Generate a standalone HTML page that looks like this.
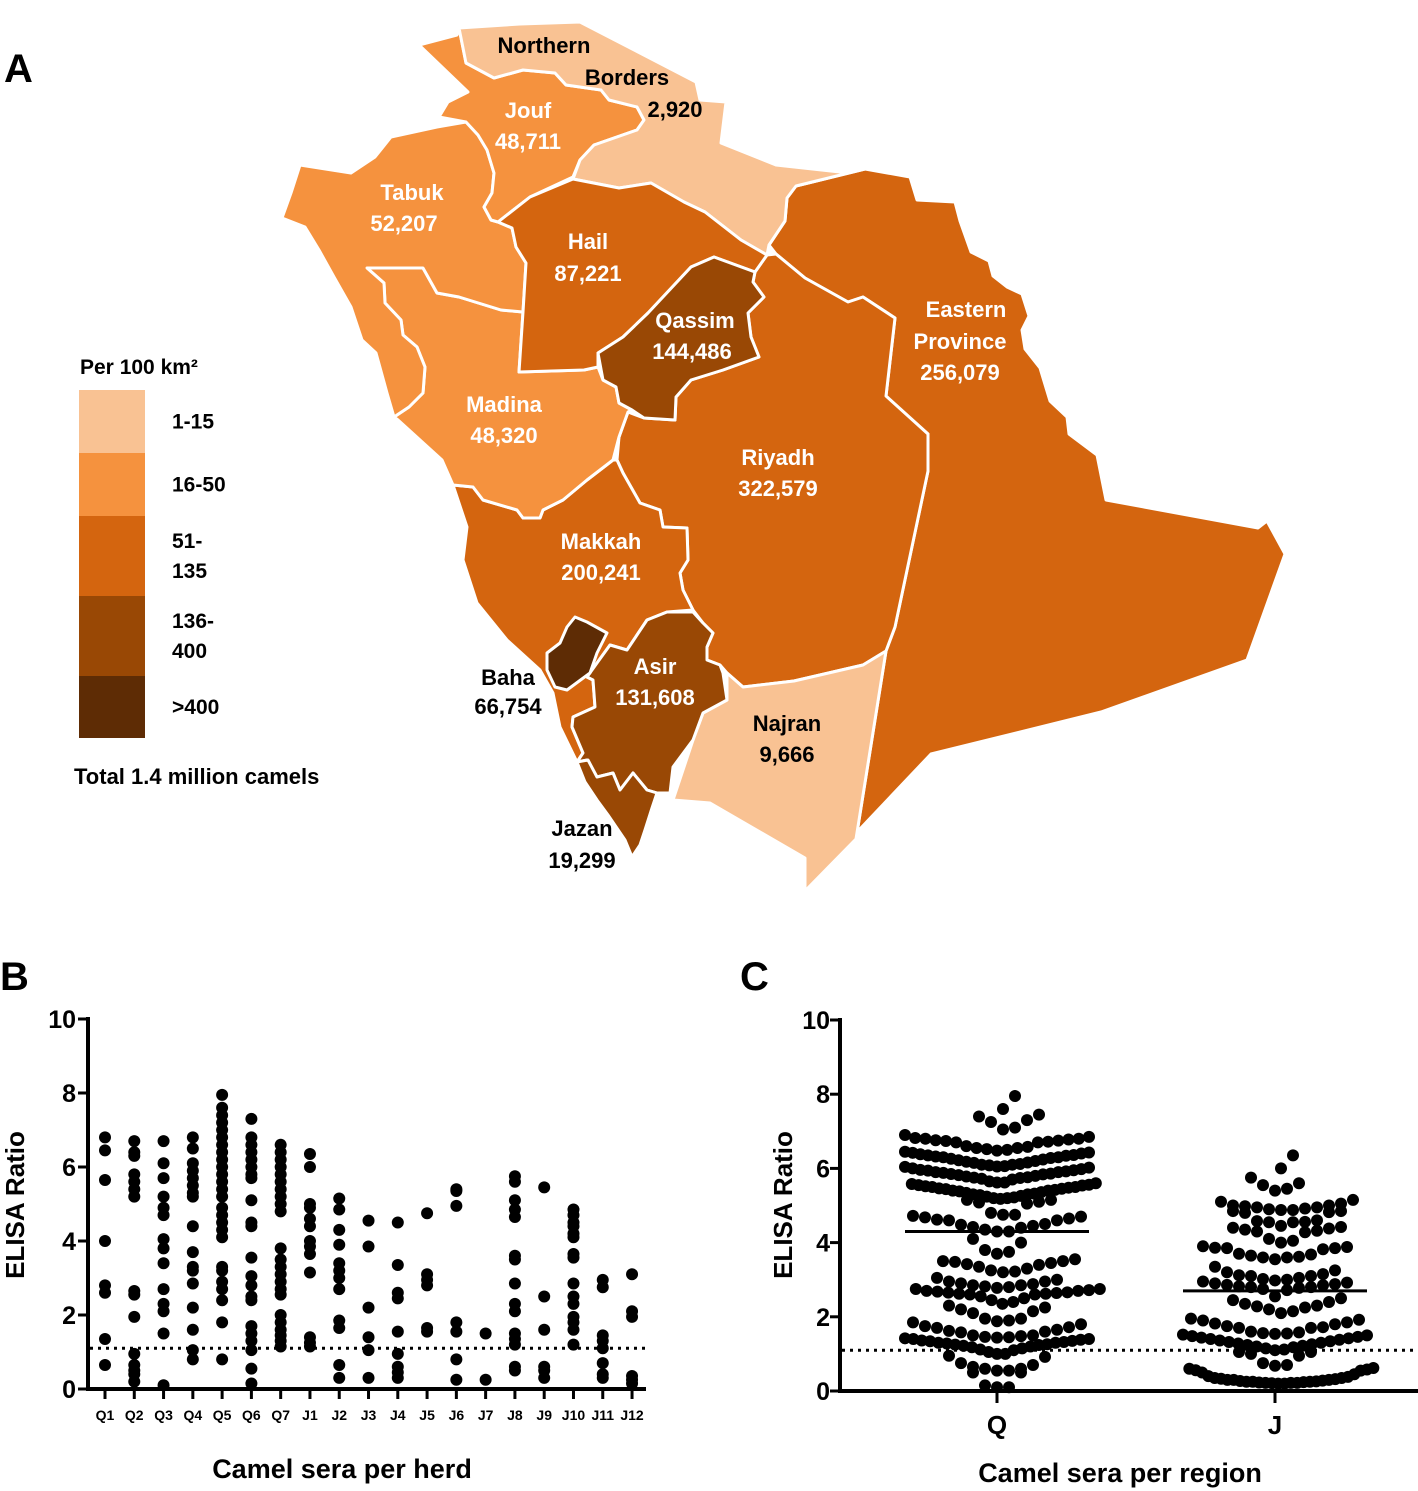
<!DOCTYPE html>
<html><head><meta charset="utf-8">
<style>
body{margin:0;background:#fff;width:1418px;height:1491px;overflow:hidden;font-family:"Liberation Sans",sans-serif}
svg{display:block}
.lbl{font-family:"Liberation Sans",sans-serif;font-weight:bold;font-size:22px;text-anchor:middle}
.w{fill:#fff}.k{fill:#000}
.tick{font-family:"Liberation Sans",sans-serif;font-weight:bold;font-size:25px;text-anchor:end}
</style></head>
<body>
<svg width="1418" height="1491" xmlns="http://www.w3.org/2000/svg">
<g id="map" stroke="#fff" stroke-width="3" stroke-linejoin="round"></g>
<text x="4" y="82" font-size="40" font-weight="bold">A</text>
<g id="legend"></g>
<g id="panelB"></g>
<g id="panelC"></g>
</svg>
<script>
const NS="http://www.w3.org/2000/svg";
function mk(p,tag,at,txt){const e=document.createElementNS(NS,tag);for(const k in at)e.setAttribute(k,at[k]);if(txt!==undefined)e.textContent=txt;p.appendChild(e);return e;}
// ---- Map ----
const C1="#F9C293",C2="#F5923E",C3="#D4650F",C4="#994805",C5="#5E2C05";
const regionNames=["eastern-province","riyadh","makkah","madina","tabuk","jouf","northern-borders","hail","qassim","najran","asir","jazan","baha"];
const regionColors=[C3,C3,C3,C2,C2,C2,C1,C3,C4,C1,C4,C4,C5];
const regionShapes=[
"776,254 769,245 785,221 787,198 796,186 865,169 910,177 917,200 955,202 960,221 971,252 989,261 993,276 1007,287 1022,294 1029,316 1022,330 1025,349 1040,368 1050,401 1067,417 1069,434 1097,455 1106,500 1258,528 1267,521 1285,554 1247,660 1101,712 931,754 859,830 856,839 886,651 895,627 928,471 928,434 886,396 895,318 863,297 848,302 805,278",
"767,255 776,254 805,278 848,302 863,297 895,318 886,396 928,434 928,471 895,627 886,651 863,665 794,681 743,687 727,673 720,665 707,660 707,647 713,633 703,623 693,610 683,590 680,573 688,560 687,528 663,527 660,510 640,503 623,473 617,460 619,437 628,412 644,418 675,420 676,397 691,380 723,370 759,357 751,337 748,313 764,297 753,282 755,272",
"453,485 473,487 483,500 517,510 523,518 540,518 543,510 563,500 587,480 613,460 617,460 623,473 640,503 660,510 663,527 687,528 688,560 680,573 683,590 693,610 667,612 647,620 627,650 610,645 597,663 587,677 593,680 595,707 573,717 572,727 583,753 577,762 560,727 553,693 540,670 507,640 477,603 463,560 467,527",
"367,268 423,268 437,293 459,297 501,310 523,312 519,372 584,370 598,367 603,380 616,387 619,403 632,410 628,412 619,437 613,460 587,480 563,500 543,510 540,518 523,518 517,510 483,500 473,487 453,485 442,460 398,420 394,417 409,407 423,393 425,367 417,347 403,335 401,320 385,303 384,283",
"437,127 466,122 478,135 487,150 494,173 492,193 484,207 491,220 498,222 512,228 516,247 526,263 523,312 501,310 459,297 437,293 423,268 367,268 384,283 385,303 401,320 403,335 417,347 425,367 423,393 409,407 394,417 387,393 376,353 362,340 351,307 334,277 319,250 305,227 282,218 291,193 300,165 351,173 375,157 391,137",
"419,45 457,35 459,28 466,63 494,78 523,70 555,73 566,85 601,90 609,100 637,107 644,120 637,130 594,145 580,160 573,177 530,197 498,222 491,220 484,207 492,193 494,173 487,150 478,135 466,122 439,117 448,102 468,92",
"459,28 520,24 580,22 696,82 700,100 726,102 721,143 776,165 840,172 865,169 796,186 787,198 785,221 769,245 767,255 741,240 705,212 684,202 651,183 619,188 573,179 580,160 594,145 637,130 644,120 637,107 609,100 601,90 566,85 555,73 523,70 494,78 466,63",
"498,222 530,197 573,179 619,188 651,183 684,202 705,212 741,240 767,255 755,272 714,257 691,267 648,313 623,337 598,353 598,367 584,370 519,372 523,312 526,263 516,247 512,228",
"598,353 623,337 648,313 691,267 714,257 755,272 753,282 764,297 748,313 751,337 759,357 723,370 691,380 676,397 675,420 644,418 632,410 619,403 616,387 603,380",
"727,673 743,687 794,681 863,665 886,651 856,839 805,891 805,858 710,803 673,800 693,740 703,713 727,700",
"693,612 667,612 647,620 627,650 610,645 597,663 587,677 593,680 595,707 573,717 572,727 583,753 577,762 587,760 597,777 613,773 620,790 633,773 647,790 657,793 670,793 673,767 693,740 703,713 727,700 723,673 720,665 707,660 707,647 713,633 703,623",
"577,762 588,760 597,777 613,773 620,790 633,773 647,790 657,793 652,808 645,830 640,845 632,857 625,840 608,815 597,800 585,782",
"575,617 587,622 607,633 597,653 590,673 567,690 555,687 547,670 547,653 560,643 567,627"];
const map=document.getElementById('map');
regionShapes.forEach((s,i)=>{const p=mk(map,'polygon',{points:s,fill:regionColors[i]});

});
const labels=[["Northern",544,53,"k"],["Borders",627,85,"k"],["2,920",675,117,"k"],["Jouf",528,118,"w"],["48,711",528,149,"w"],["Tabuk",412,200,"w"],["52,207",404,231,"w"],["Hail",588,249,"w"],["87,221",588,281,"w"],["Qassim",695,328,"w"],["144,486",692,359,"w"],["Eastern",966,317,"w"],["Province",960,349,"w"],["256,079",960,380,"w"],["Madina",504,412,"w"],["48,320",504,443,"w"],["Riyadh",778,465,"w"],["322,579",778,496,"w"],["Makkah",601,549,"w"],["200,241",601,580,"w"],["Asir",655,674,"w"],["131,608",655,705,"w"],["Baha",508,685,"k"],["66,754",508,714,"k"],["Najran",787,731,"k"],["9,666",787,762,"k"],["Jazan",582,836,"k"],["19,299",582,868,"k"]];
const svg=document.querySelector('svg');
labels.forEach(l=>{const t=mk(svg,'text',{x:l[1],y:l[2],class:'lbl '+l[3]},l[0]);

});
// legend
const lg=document.getElementById('legend');
mk(lg,'text',{x:80,y:374,'font-size':21,'font-weight':'bold'},'Per 100 km²');
const legCols=[C1,C2,C3,C4,C5],legY=[390,453,516,596,676,738];
const legText=[["1-15"],["16-50"],["51-","135"],["136-","400"],[">400"]];
legCols.forEach((c,i)=>{const r=mk(lg,'rect',{x:79,y:legY[i],width:66,height:legY[i+1]-legY[i],fill:c});


const t=legText[i];const mid=(legY[i]+legY[i+1])/2;
t.forEach((s,j)=>mk(lg,'text',{x:172,y:mid+7+(j-(t.length-1)/2)*30,'font-size':21,'font-weight':'bold'},s));});
mk(lg,'text',{x:74,y:784,'font-size':22,'font-weight':'bold'},'Total 1.4 million camels');

// ---- Panel B ----
const herdNames=["Q1","Q2","Q3","Q4","Q5","Q6","Q7","J1","J2","J3","J4","J5","J6","J7","J8","J9","J10","J11","J12"];
const herdValues=[
[6.8,6.45,5.65,4.0,2.8,2.6,1.35,0.65],
[6.7,6.4,6.3,5.8,5.6,5.4,5.2,2.65,2.55,1.95,0.95,0.65,0.5,0.4,0.2],
[6.7,6.1,5.7,5.2,4.9,4.7,4.05,3.8,3.4,2.7,2.3,2.1,1.5,0.1],
[6.8,6.5,6.1,5.9,5.7,5.5,5.3,5.2,4.4,3.7,3.3,3.2,2.85,2.2,1.6,1.05,0.8],
[7.95,7.6,7.4,7.2,7.0,6.8,6.6,6.4,6.2,6.0,5.8,5.6,5.4,5.2,4.9,4.7,4.5,4.3,4.1,3.3,3.2,2.9,2.7,2.4,1.8,0.8],
[7.3,6.8,6.6,6.4,6.2,6.0,5.8,5.7,5.1,4.5,4.4,3.55,3.05,2.8,2.5,2.4,1.7,1.5,1.3,1.05,0.55,0.15],
[6.6,6.4,6.2,6.0,5.8,5.6,5.4,5.2,5.0,4.8,3.8,3.5,3.3,3.1,2.9,2.7,2.55,2.0,1.8,1.6,1.45,1.3,1.15],
[6.35,6.0,5.0,4.9,4.6,4.4,4.0,3.85,3.65,3.15,1.4,1.25,1.15],
[5.15,4.85,4.3,3.9,3.4,3.2,3.0,2.7,1.85,1.65,0.65,0.3],
[4.55,3.85,2.2,1.4,1.05,0.3],
[4.5,3.35,2.6,2.45,1.55,0.95,0.6,0.45,0.3],
[4.75,3.1,2.95,2.8,1.65,1.55],
[5.4,5.35,4.95,1.8,1.55,0.8,0.25],
[1.5,0.25],
[5.75,5.6,5.1,4.85,4.65,3.6,3.5,2.85,2.3,2.1,1.5,1.35,1.2,0.6,0.5],
[5.45,2.5,1.6,0.6,0.5,0.3],
[4.85,4.7,4.5,4.4,4.2,4.1,3.65,3.55,2.85,2.5,2.3,1.95,1.8,1.6,1.2],
[2.95,2.75,1.45,1.3,1.1,0.7,0.4,0.3],
[3.1,2.1,1.95,0.35,0.25,0.15]];
const yTicks=[0,2,4,6,8,10];
const cutoff=1.1;
const B=document.getElementById('panelB');
const byB=v=>1389-v*37, bx=i=>105+i*29.28;
mk(B,'text',{x:0,y:990,'font-size':40,'font-weight':'bold'},'B');
mk(B,'line',{x1:88,y1:1017,x2:88,y2:1391,stroke:'#000','stroke-width':4});
mk(B,'line',{x1:86,y1:1389,x2:646,y2:1389,stroke:'#000','stroke-width':4});
yTicks.forEach(v=>{mk(B,'line',{x1:78,y1:byB(v),x2:88,y2:byB(v),stroke:'#000','stroke-width':3});
const t=mk(B,'text',{x:76,y:byB(v)+9,class:'tick'},v);

});
mk(B,'line',{x1:90,y1:byB(cutoff),x2:646,y2:byB(cutoff),stroke:'#000','stroke-width':3,'stroke-dasharray':'3,5'});
herdNames.forEach((n,i)=>{mk(B,'line',{x1:bx(i),y1:1389,x2:bx(i),y2:1399,stroke:'#000','stroke-width':3});
const t=mk(B,'text',{x:bx(i),y:1420,'font-size':14,'font-weight':'bold','text-anchor':'middle'},n);


herdValues[i].forEach(v=>{const c=mk(B,'circle',{cx:bx(i),cy:byB(v),r:6,fill:'#000'});

});});
const yb=mk(B,'text',{x:0,y:0,'font-size':26,'font-weight':'bold','text-anchor':'middle',transform:'translate(24,1205) rotate(-90)'},'ELISA Ratio');


const xb=mk(B,'text',{x:342,y:1478,'font-size':27,'font-weight':'bold','text-anchor':'middle'},'Camel sera per herd');



// ---- Panel C ----
const regionsC=["Q","J"];
const qVals=[7.95,7.6,7.45,7.4,7.3,7.25,
7.1,7.05,6.9,6.85,6.82,6.8,6.8,6.78,6.76,6.75,6.74,6.72,6.7,6.7,
6.6,6.58,6.55,6.52,6.5,6.48,6.45,6.43,6.4,6.38,6.36,6.34,6.32,6.3,6.28,6.26,6.24,6.22,6.2,6.18,6.16,6.15,6.42,6.35,6.3,6.55,
6.12,6.1,6.08,6.06,6.04,6.02,6.0,5.98,5.96,5.94,5.92,5.9,5.88,5.86,5.84,5.82,5.8,5.78,5.76,5.74,5.72,5.7,6.05,5.95,5.85,6.1,5.9,5.75,
5.65,5.62,5.6,5.58,5.56,5.54,5.52,5.5,5.48,5.46,5.44,5.42,5.4,5.38,5.36,5.34,5.32,5.3,5.28,5.26,5.24,5.22,5.62,5.5,5.4,5.3,5.55,5.45,
5.2,5.18,5.15,5.15,5.1,5.08,5.05,5.2,
4.8,4.75,4.72,4.7,4.68,4.65,4.62,4.6,4.6,4.75,
4.5,4.48,4.45,4.42,4.4,4.35,4.3,4.3,
4.1,4.0,3.8,3.75,3.7,
3.55,3.5,3.48,3.45,3.42,3.4,3.35,3.3,3.25,3.22,3.2,3.5,
3.05,3.0,2.95,2.9,2.88,2.85,2.82,2.8,2.78,2.75,2.72,2.7,2.68,2.66,2.64,2.62,2.6,2.6,2.62,2.65,2.7,2.75,2.85,2.95,
2.55,2.5,2.45,2.4,2.35,2.3,2.25,2.2,2.1,2.15,
1.95,1.95,1.9,1.88,1.85,1.8,1.75,1.72,1.7,1.65,1.62,1.6,1.58,
1.5,1.5,1.48,1.46,1.44,1.42,1.4,1.38,1.36,1.34,1.32,1.3,1.28,1.26,1.24,1.22,1.2,1.18,1.15,1.12,1.1,1.45,1.35,1.25,1.4,1.3,
1.05,1.0,1.0,0.95,0.92,0.75,0.7,0.65,0.6,0.6,0.55,0.55,0.5,0.5,0.15,0.1,0.1];
const jVals=[6.35,6.0,5.75,5.6,5.55,5.45,5.4,5.15,5.1,
5.05,5.0,5.0,4.98,4.95,4.92,4.9,4.88,4.85,4.85,4.82,4.8,4.88,4.95,
4.6,4.58,4.56,4.55,4.55,4.45,4.42,4.4,4.38,4.35,4.32,4.3,4.28,4.1,
4.05,4.0,3.9,3.88,3.86,3.85,3.85,3.82,3.7,3.68,3.65,3.62,3.6,3.6,3.55,3.35,3.25,3.2,3.15,3.12,3.1,3.1,
3.05,3.02,3.0,2.98,2.95,2.92,2.9,2.88,2.86,2.85,2.82,2.8,2.8,2.78,2.75,2.72,
2.55,2.5,2.45,2.4,2.35,2.3,2.28,2.25,2.2,2.15,2.1,
1.95,1.92,1.9,1.85,1.82,1.8,1.75,1.72,1.7,1.7,
1.6,1.58,1.56,1.55,1.54,1.52,1.5,1.48,1.46,1.44,1.42,1.4,1.38,1.36,1.34,1.32,1.3,1.28,1.26,1.24,1.22,1.2,1.18,1.15,1.12,1.1,
1.05,1.05,1.0,0.95,0.75,0.7,0.68,
0.62,0.6,0.58,0.56,0.55,0.5,0.45,0.4,0.38,0.35,0.33,0.32,0.3,0.3,0.28,0.27,0.26,0.25,0.25,0.24,0.23,0.22,0.22,0.21,0.2,0.2,0.22,0.25,0.3,0.35];
const medians=[4.3,2.7];
const Cg=document.getElementById('panelC');
const byC=v=>1391-v*37.1, cx=[997,1275];
mk(Cg,'text',{x:740,y:990,'font-size':40,'font-weight':'bold'},'C');
mk(Cg,'line',{x1:840,y1:1018,x2:840,y2:1393,stroke:'#000','stroke-width':4});
mk(Cg,'line',{x1:838,y1:1391,x2:1418,y2:1391,stroke:'#000','stroke-width':4});
yTicks.forEach(v=>{mk(Cg,'line',{x1:830,y1:byC(v),x2:840,y2:byC(v),stroke:'#000','stroke-width':3});
const t=mk(Cg,'text',{x:830,y:byC(v)+9,class:'tick'},v);

});
mk(Cg,'line',{x1:842,y1:byC(cutoff),x2:1418,y2:byC(cutoff),stroke:'#000','stroke-width':3,'stroke-dasharray':'3,5'});
[qVals,jVals].forEach((vals,gi)=>{
  const sorted=vals.slice().sort((a,b)=>a-b);
  // group into rows
  const rows=[];let cur=[];
  sorted.forEach(v=>{if(cur.length&&v-cur[0]>0.42){rows.push(cur);cur=[];}cur.push(v);});
  if(cur.length)rows.push(cur);
  rows.forEach(row=>{
    const n=row.length;const sp=n>1?Math.min(12,184/(n-1)):0;
    row.forEach((v,k)=>{
      const slot=k===0?0:(k%2?1:-1)*Math.ceil(k/2);
      let off=slot*sp;
      if(n%2===0)off+= sp/2;
      const c=mk(Cg,'circle',{cx:cx[gi]+off,cy:byC(v),r:6,fill:'#000'});
      
      
    });
  });
  mk(Cg,'line',{x1:cx[gi]-92,y1:byC(medians[gi]),x2:cx[gi]+92,y2:byC(medians[gi]),stroke:'#000','stroke-width':3});
  mk(Cg,'line',{x1:cx[gi],y1:1391,x2:cx[gi],y2:1403,stroke:'#000','stroke-width':3});
  const t=mk(Cg,'text',{x:cx[gi],y:1434,'font-size':26,'font-weight':'bold','text-anchor':'middle'},regionsC[gi]);
  
  
});
const yc=mk(Cg,'text',{x:0,y:0,'font-size':26,'font-weight':'bold','text-anchor':'middle',transform:'translate(792,1205) rotate(-90)'},'ELISA Ratio');


const xc=mk(Cg,'text',{x:1120,y:1482,'font-size':27,'font-weight':'bold','text-anchor':'middle'},'Camel sera per region');


</script>
</body></html>
